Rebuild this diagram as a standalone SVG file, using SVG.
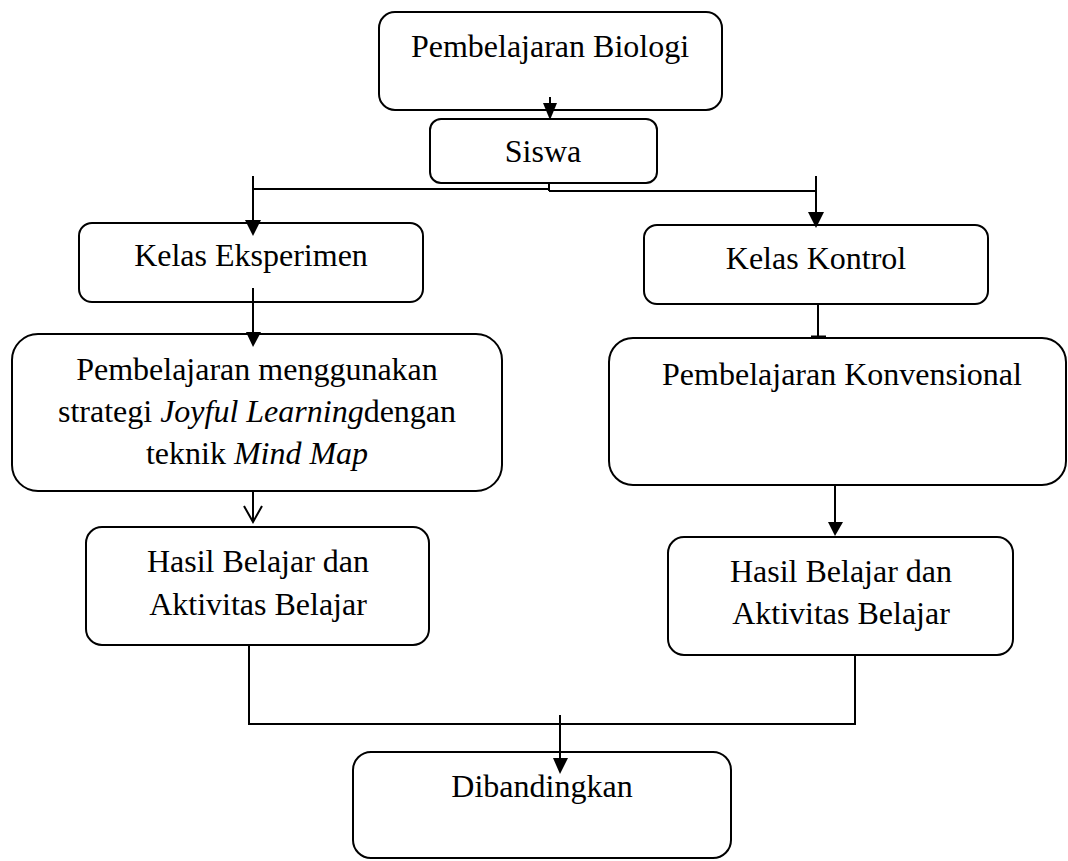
<svg xmlns="http://www.w3.org/2000/svg" width="1068" height="861" viewBox="0 0 1068 861">
<style>
.box{fill:#fff;stroke:#000;stroke-width:2}
.t{font-family:"Liberation Serif","Times New Roman",serif;font-size:32px;fill:#000;text-anchor:middle}
.i{font-style:italic}
.c{fill:none;stroke:#000;stroke-width:2}
.h{fill:#000;stroke:none}
</style>
<rect width="1068" height="861" fill="#fff"/>
<g id="n-biologi"><rect class="box" x="379" y="12" width="343" height="98" rx="16"/><text class="t" x="550" y="57">Pembelajaran Biologi</text></g>
<g id="n-siswa"><rect class="box" x="430" y="119" width="227" height="64" rx="11"/><text class="t" x="543" y="162">Siswa</text></g>
<g id="n-eksperimen"><rect class="box" x="79" y="223" width="344" height="79" rx="13"/><text class="t" x="251" y="266">Kelas Eksperimen</text></g>
<g id="n-kontrol"><rect class="box" x="644" y="225" width="344" height="79" rx="13"/><text class="t" x="816" y="269">Kelas Kontrol</text></g>
<g id="n-joyful"><rect class="box" x="12" y="334" width="490" height="157" rx="26"/>
<text class="t" x="257" y="380">Pembelajaran menggunakan</text>
<text class="t" x="257" y="422">strategi <tspan class="i">Joyful Learning</tspan>dengan</text>
<text class="t" x="257" y="464">teknik <tspan class="i">Mind Map</tspan></text></g>
<g id="n-konvensional"><rect class="box" x="609" y="338" width="457" height="147" rx="24"/><text class="t" x="842" y="385">Pembelajaran Konvensional</text></g>
<g id="n-hasil-e"><rect class="box" x="86" y="527" width="343" height="118" rx="16"/><text class="t" x="258" y="572">Hasil Belajar dan</text><text class="t" x="258" y="615">Aktivitas Belajar</text></g>
<g id="n-hasil-k"><rect class="box" x="668" y="537" width="345" height="118" rx="16"/><text class="t" x="841" y="582">Hasil Belajar dan</text><text class="t" x="841" y="624">Aktivitas Belajar</text></g>
<g id="n-dibandingkan"><rect class="box" x="353" y="752" width="378" height="106" rx="18"/><text class="t" x="542" y="797">Dibandingkan</text></g>
<g id="connectors">
<line class="c" x1="550" y1="97" x2="550" y2="105"/><polygon class="h" points="543,103 557,103 550,120"/>
<line class="c" x1="549" y1="183" x2="549" y2="191"/>
<line class="c" x1="252" y1="189" x2="549" y2="189"/>
<line class="c" x1="549" y1="191" x2="817" y2="191"/>
<line class="c" x1="253" y1="176" x2="253" y2="222"/><polygon class="h" points="245,220 261,220 253,236"/>
<line class="c" x1="816" y1="176" x2="816" y2="214"/><polygon class="h" points="808,212 824,212 816,228"/>
<line class="c" x1="253" y1="288" x2="253" y2="334"/><polygon class="h" points="246,332 261,332 253,347"/>
<line class="c" x1="818" y1="304" x2="818" y2="337"/><line x1="811" y1="337" x2="826" y2="337" stroke="#000" stroke-width="3"/>
<line class="c" x1="253" y1="491" x2="253" y2="522"/><polyline class="c" points="244,506 253,522 262,506"/>
<line class="c" x1="835" y1="485" x2="835" y2="524"/><polygon class="h" points="828,522 843,522 835,536"/>
<polyline class="c" points="249,645 249,724 855,724 855,655"/>
<line class="c" x1="560" y1="715" x2="560" y2="760"/><polygon class="h" points="553,758 568,758 560,774"/>
</g>
</svg>
